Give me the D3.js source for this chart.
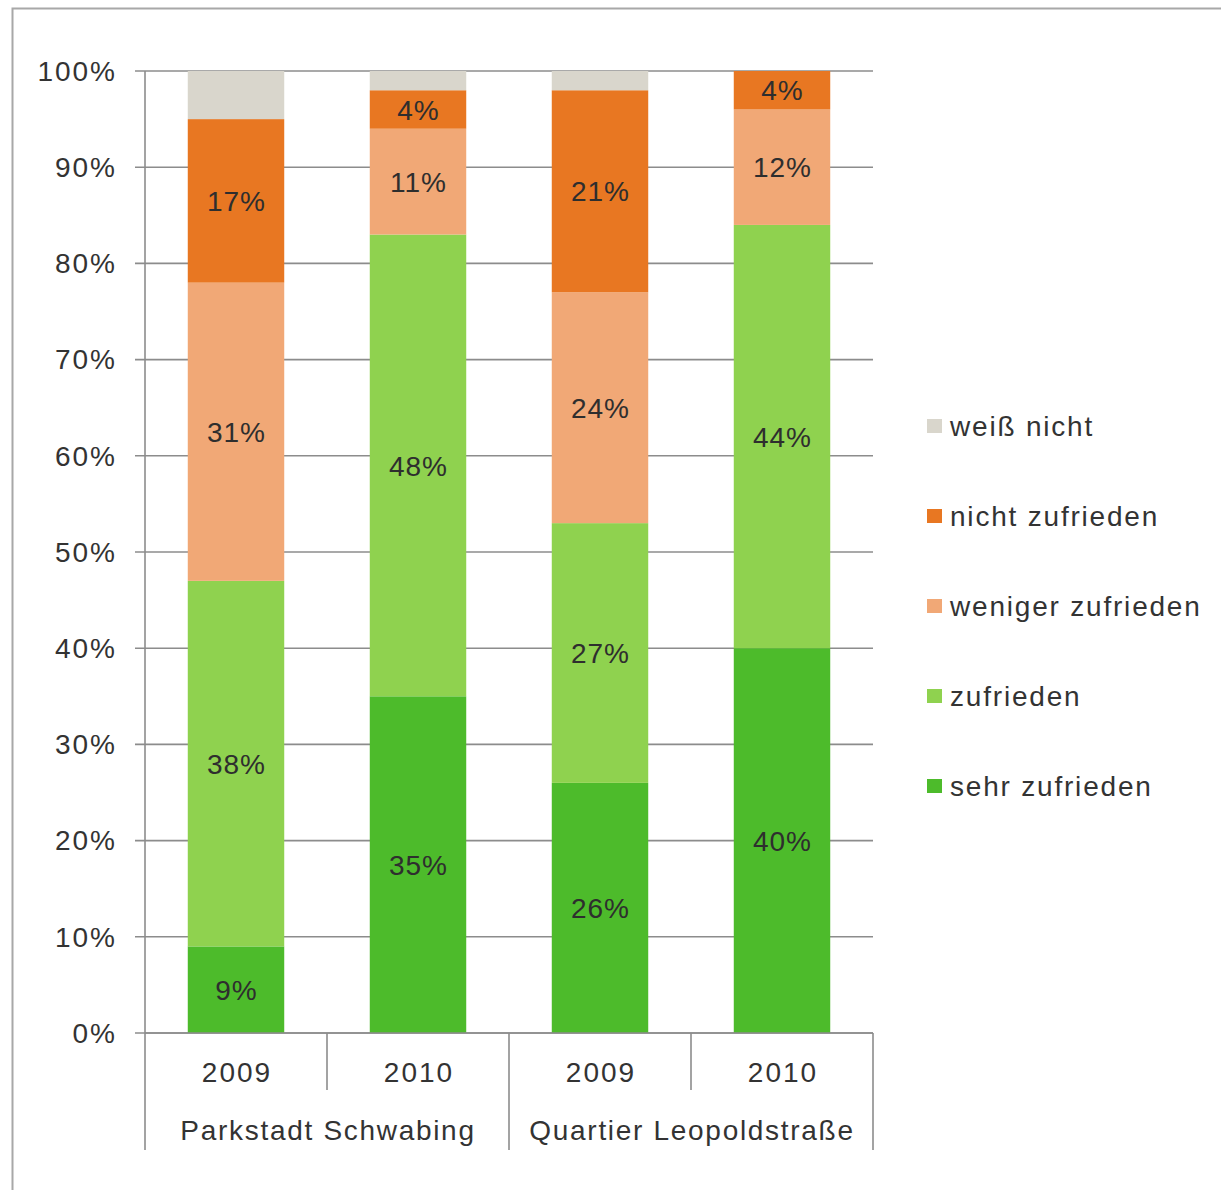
<!DOCTYPE html>
<html>
<head>
<meta charset="utf-8">
<script src="https://cdn.jsdelivr.net/npm/d3@7/dist/d3.min.js"></script>
<style>
  html, body { margin: 0; padding: 0; background: #fff; }
  svg { display: block; }
  text { font-family: "Liberation Sans", Arial, sans-serif; fill: #333; }
</style>
</head>
<body>
<svg id="chart" width="1221" height="1190"></svg>
<script>
// Survey satisfaction by district and year (shares in %)
const groups = ["Parkstadt Schwabing", "Quartier Leopoldstraße"];
const years = ["2009", "2010"];
const columns = ["PS-2009", "PS-2010", "QL-2009", "QL-2010"];

// Stack order bottom -> top
const seriesNames = ["sehr zufrieden", "zufrieden", "weniger zufrieden", "nicht zufrieden", "weiß nicht"];
const seriesColors = ["#4dbb2b", "#8fd24f", "#f1a876", "#e87722", "#d9d6cc"];

const sehrZufrieden    = [9, 35, 26, 40];
const zufrieden        = [38, 48, 27, 44];
const wenigerZufrieden = [31, 11, 24, 12];
const nichtZufrieden   = [17, 4, 21, 4];
const weissNicht       = [5, 2, 2, 0];   // not labelled in the chart
const seriesValues = [sehrZufrieden, zufrieden, wenigerZufrieden, nichtZufrieden, weissNicht];
const labelledSeries = [true, true, true, true, false];

const yTicks = [0, 10, 20, 30, 40, 50, 60, 70, 80, 90, 100];

const svg = d3.select("#chart");

// outer frame
svg.append("rect")
  .attr("x", 12.5).attr("y", 8.5)
  .attr("width", 1230).attr("height", 1200)
  .attr("fill", "none").attr("stroke", "#a8a8a8").attr("stroke-width", 2);

const plotLeft = 145, plotRight = 873, plotTop = 71, plotBottom = 1033;

const x = d3.scaleBand().domain(columns).range([plotLeft, plotRight])
  .paddingInner(0.47).paddingOuter(0.235);
const step = x.step();
const y = d3.scaleLinear().domain([0, 100]).range([plotBottom, plotTop]);

// horizontal gridlines + tick labels
const grid = svg.append("g");
grid.selectAll("line").data(yTicks).join("line")
  .attr("x1", plotLeft - 10).attr("x2", plotRight)
  .attr("y1", d => y(d)).attr("y2", d => y(d))
  .attr("stroke", "#8c8c8c").attr("stroke-width", 1.6);
grid.selectAll("text").data(yTicks).join("text")
  .attr("x", 117).attr("y", d => y(d))
  .attr("dy", "0.35em")
  .attr("text-anchor", "end")
  .attr("font-size", 28).attr("letter-spacing", 2)
  .text(d => d + "%");

// stacked data
const table = columns.map((c, i) => {
  const row = { col: c };
  seriesNames.forEach((s, k) => row[s] = seriesValues[k][i]);
  return row;
});
const stack = d3.stack().keys(seriesNames)(table);

const layers = svg.append("g").selectAll("g").data(stack).join("g")
  .attr("fill", (d, k) => seriesColors[k]);
layers.selectAll("rect").data(d => d).join("rect")
  .attr("x", d => x(d.data.col))
  .attr("width", x.bandwidth())
  .attr("y", d => y(d[1]))
  .attr("height", d => y(d[0]) - y(d[1]));

// value labels
const labels = svg.append("g");
stack.forEach((layer, k) => {
  if (!labelledSeries[k]) return;
  labels.selectAll(null).data(layer).join("text")
    .attr("x", d => x(d.data.col) + x.bandwidth() / 2 + 0.5)
    .attr("y", d => y((d[0] + d[1]) / 2))
    .attr("dy", "0.36em")
    .attr("text-anchor", "middle")
    .attr("font-size", 28).attr("letter-spacing", 1)
    .style("fill", "#2e2e2e")
    .text(d => (d[1] - d[0]) + "%");
});

// axis lines
const axisColor = "#8c8c8c";
svg.append("line").attr("x1", plotLeft).attr("x2", plotLeft).attr("y1", plotTop).attr("y2", plotBottom)
  .attr("stroke", axisColor).attr("stroke-width", 1.6);
svg.append("line").attr("x1", plotLeft).attr("x2", plotRight).attr("y1", plotBottom).attr("y2", plotBottom)
  .attr("stroke", axisColor).attr("stroke-width", 1.6);

// category separators: short between years, long between groups
const gap = (step - x.bandwidth()) / 2;
const shortSep = [x(columns[1]) - gap, x(columns[3]) - gap];
const longSep = [plotLeft, x(columns[2]) - gap, plotRight];
svg.append("g").selectAll("line").data(shortSep).join("line")
  .attr("x1", d => d).attr("x2", d => d).attr("y1", plotBottom).attr("y2", 1090)
  .attr("stroke", axisColor).attr("stroke-width", 1.6);
svg.append("g").selectAll("line").data(longSep).join("line")
  .attr("x1", d => d).attr("x2", d => d).attr("y1", plotBottom).attr("y2", 1150)
  .attr("stroke", axisColor).attr("stroke-width", 1.6);

// year labels
svg.append("g").selectAll("text").data(columns).join("text")
  .attr("x", d => x(d) + x.bandwidth() / 2 + 1)
  .attr("y", 1072).attr("dy", "0.35em")
  .attr("text-anchor", "middle")
  .attr("font-size", 28).attr("letter-spacing", 2)
  .text((d, i) => years[i % 2]);

// group labels
svg.append("g").selectAll("text").data(groups).join("text")
  .attr("x", (d, i) => (longSep[i] + longSep[i + 1]) / 2 + 1)
  .attr("y", 1130).attr("dy", "0.35em")
  .attr("text-anchor", "middle")
  .attr("font-size", 28).attr("letter-spacing", 1.7)
  .text(d => d);

// legend (top entry = top of stack)
const legendOrder = seriesNames.map((s, k) => k).reverse();
const legend = svg.append("g").selectAll("g").data(legendOrder).join("g")
  .attr("transform", (k, i) => `translate(927, ${426 + i * 90})`);
legend.append("rect")
  .attr("x", 0).attr("y", -7).attr("width", 15).attr("height", 14)
  .attr("fill", k => seriesColors[k]);
legend.append("text")
  .attr("x", 23).attr("y", 0).attr("dy", "0.35em")
  .attr("font-size", 28).attr("letter-spacing", 1.8)
  .text(k => seriesNames[k]);
</script>
</body>
</html>
